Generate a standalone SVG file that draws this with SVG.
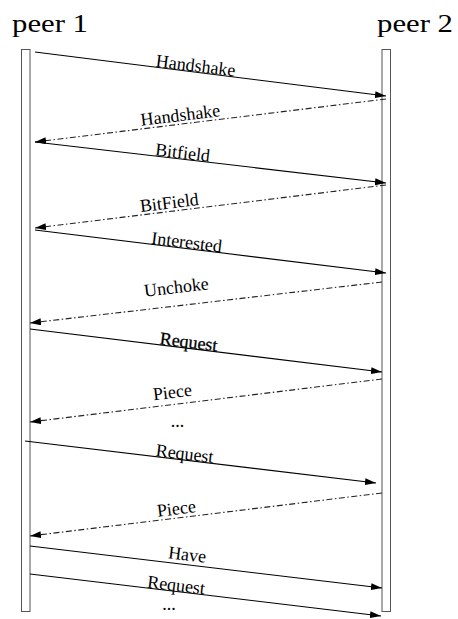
<svg xmlns="http://www.w3.org/2000/svg" width="458" height="619" viewBox="0 0 458 619">
<style>
.peer{font-family:"Liberation Serif","Times New Roman",serif;font-size:26px;fill:#000}
.lbl{font-family:"Liberation Serif","Times New Roman",serif;font-size:18px;fill:#000;text-anchor:middle}
.life{fill:#fff;stroke:#555;stroke-width:1}
.msg{fill:none;stroke:#000;stroke-width:1.1;marker-end:url(#ah)}
.dd{stroke:#222;stroke-dasharray:6 2.5 1.5 2.5}
</style>
<defs>
<marker id="ah" markerUnits="userSpaceOnUse" markerWidth="12" markerHeight="8" refX="11" refY="3.5" orient="auto">
<path d="M0,0 L11,3.5 L0,7 z" fill="#000"/>
</marker>
</defs>
<rect width="458" height="619" fill="#fff"/>
<g id="peer1">
<text class="peer" x="12" y="32" textLength="76" lengthAdjust="spacingAndGlyphs">peer 1</text>
<rect class="life" x="21.5" y="49.5" width="8.5" height="562"/>
</g>
<g id="peer2">
<text class="peer" x="377" y="32" textLength="76" lengthAdjust="spacingAndGlyphs">peer 2</text>
<rect class="life" x="382" y="49.5" width="8.5" height="562"/>
</g>
<g id="connectors">
<line class="msg" x1="35" y1="52" x2="386" y2="96"/>
<line class="msg dd" x1="386" y1="99" x2="35" y2="142"/>
<line class="msg" x1="35" y1="142" x2="386" y2="183"/>
<line class="msg dd" x1="386" y1="185" x2="35" y2="228"/>
<line class="msg" x1="35" y1="230" x2="386" y2="273"/>
<line class="msg dd" x1="382" y1="282" x2="30" y2="323"/>
<line class="msg" x1="30" y1="329" x2="382" y2="372"/>
<line class="msg dd" x1="382" y1="379" x2="30" y2="422"/>
<line class="msg" x1="25" y1="441" x2="376" y2="483"/>
<line class="msg dd" x1="382" y1="493" x2="30" y2="536"/>
<line class="msg" x1="30" y1="546" x2="382" y2="588"/>
<line class="msg" x1="30" y1="574" x2="381" y2="616"/>
</g>
<g id="labels">
<text class="lbl" x="195" y="71.5" transform="rotate(7.14 195 71.5)">Handshake</text>
<text class="lbl" x="181" y="121" transform="rotate(-6.98 181 121)">Handshake</text>
<text class="lbl" x="182" y="158.5" transform="rotate(6.66 182 158.5)">Bitfield</text>
<text class="lbl" x="170" y="208.5" transform="rotate(-6.98 170 208.5)">BitField</text>
<text class="lbl" x="186" y="248" transform="rotate(6.98 186 248)">Interested</text>
<text class="lbl" x="177" y="293" transform="rotate(-6.64 177 293)">Unchoke</text>
<text class="lbl" x="188" y="347.8" transform="rotate(6.96 188 347.8)" stroke="#000" stroke-width="0.3">Request</text>
<text class="lbl" x="173" y="398" transform="rotate(-6.96 173 398)">Piece</text>
<text class="lbl" x="177.5" y="427">...</text>
<text class="lbl" x="184" y="459.5" transform="rotate(6.82 184 459.5)">Request</text>
<text class="lbl" x="177" y="514.5" transform="rotate(-6.96 177 514.5)">Piece</text>
<text class="lbl" x="186.5" y="560.5" transform="rotate(6.8 186.5 560.5)">Have</text>
<text class="lbl" x="175.5" y="591" transform="rotate(6.82 175.5 591)">Request</text>
<text class="lbl" x="169" y="610">...</text>
</g>
</svg>
